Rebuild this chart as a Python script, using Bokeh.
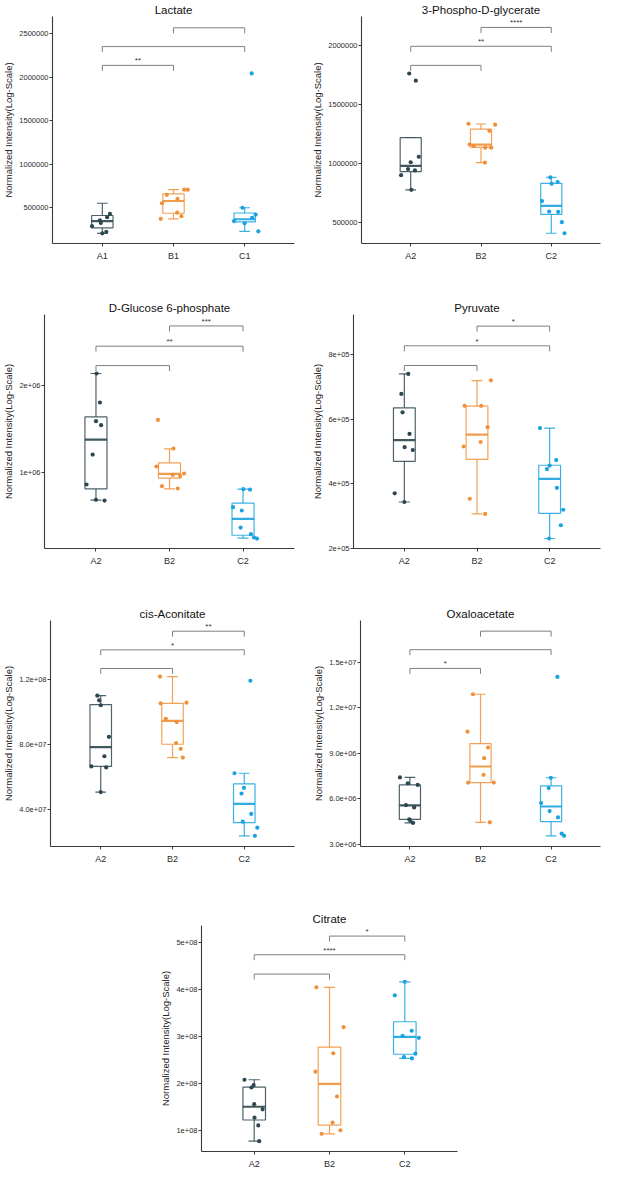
from bokeh.plotting import figure
from bokeh.layouts import column, row
from bokeh.models import Range1d, FactorRange, FixedTicker, Spacer
from bokeh.core.properties import value
from bokeh.embed import file_html
from bokeh.resources import INLINE

FONT = "Liberation Sans"
COLORS = ["#2E4650", "#F0913A", "#1AA3E0"]
YLABEL = "Normalized Intensity(Log-Scale)"
PAIRS = [(0, 1), (0, 2), (1, 2)]

# ---------------- data ----------------
# Lactate
lac_cats = ["A1", "B1", "C1"]
lac_A = [429e3, 392e3, 355e3, 325e3, 288e3, 224e3, 206e3]
lac_A_jit = [0.107, 0.068, -0.034, -0.021, -0.145, 0.056, 0.0]
lac_B = [708e3, 708e3, 649e3, 604e3, 552e3, 444e3, 403e3, 373e3]
lac_B_jit = [0.150, 0.201, -0.094, 0.056, -0.162, 0.051, 0.111, -0.179]
lac_C = [2045e3, 500e3, 422e3, 385e3, 347e3, 322e3, 229e3]
lac_C_jit = [0.098, -0.030, 0.154, 0.106, -0.150, 0.0, 0.192]
lac_q1 = [269e3, 437e3, 338e3]
lac_med = [347e3, 578e3, 368e3]
lac_q3 = [411e3, 660e3, 440e3]
lac_lo = [206e3, 373e3, 229e3]
lac_hi = [552e3, 708e3, 500e3]
lac_br = [2138e3, 2354e3, 2570e3]
lac_sig = ["**", "", ""]
lac_ticks = [500000, 1000000, 1500000, 2000000, 2500000]
lac_ticklabels = ["500000", "1000000", "1500000", "2000000", "2500000"]

# 3-Phospho-D-glycerate
pg_cats = ["A2", "B2", "C2"]
pg_A = [1763e3, 1702e3, 1056e3, 1009e3, 951e3, 940e3, 899e3, 775e3]
pg_A_jit = [-0.021, 0.073, 0.115, 0.0, -0.038, 0.060, -0.137, 0.009]
pg_B = [1336e3, 1328e3, 1276e3, 1160e3, 1147e3, 1133e3, 1133e3, 1006e3]
pg_B_jit = [-0.179, 0.201, 0.120, -0.162, -0.103, 0.060, 0.145, 0.056]
pg_C = [880e3, 841e3, 827e3, 679e3, 591e3, 588e3, 500e3, 406e3]
pg_C_jit = [-0.013, 0.090, 0.004, -0.132, -0.030, 0.098, 0.150, 0.188]
pg_q1 = [929e3, 1136e3, 566e3]
pg_med = [979e3, 1158e3, 638e3]
pg_q3 = [1218e3, 1290e3, 830e3]
pg_lo = [775e3, 1006e3, 406e3]
pg_hi = [1218e3, 1334e3, 880e3]
pg_br = [1832e3, 1994e3, 2154e3]
pg_sig = ["", "**", "****"]
pg_ticks = [500000, 1000000, 1500000, 2000000]
pg_ticklabels = ["500000", "1000000", "1500000", "2000000"]

# D-Glucose 6-phosphate
g6p_cats = ["A2", "B2", "C2"]
g6p_A = [2134e3, 1802e3, 1588e3, 1542e3, 1206e3, 863e3, 687e3, 679e3]
g6p_A_jit = [0.008, 0.054, 0.0, 0.070, -0.045, -0.128, 0.0, 0.116]
g6p_B = [1603e3, 1275e3, 1069e3, 989e3, 973e3, 960e3, 844e3, 817e3]
g6p_B_jit = [-0.157, 0.054, -0.178, 0.198, 0.045, 0.145, -0.103, 0.112]
g6p_C = [809e3, 805e3, 603e3, 565e3, 370e3, 294e3, 256e3, 244e3]
g6p_C_jit = [0.004, 0.095, -0.136, -0.017, -0.033, 0.107, 0.149, 0.190]
g6p_q1 = [813e3, 935e3, 282e3]
g6p_med = [1378e3, 985e3, 469e3]
g6p_q3 = [1637e3, 1111e3, 649e3]
g6p_lo = [683e3, 813e3, 248e3]
g6p_hi = [2134e3, 1271e3, 809e3]
g6p_br = [2225e3, 2447e3, 2679e3]
g6p_sig = ["", "**", "***"]
g6p_ticks = [1000000, 2000000]
g6p_ticklabels = ["1e+06", "2e+06"]

# Pyruvate
pyr_cats = ["A2", "B2", "C2"]
pyr_A = [741e3, 679e3, 622e3, 555e3, 514e3, 505e3, 371e3, 344e3]
pyr_A_jit = [0.054, -0.041, -0.025, 0.071, 0.004, 0.116, -0.133, 0.0]
pyr_B = [721e3, 642e3, 642e3, 576e3, 530e3, 516e3, 354e3, 307e3]
pyr_B_jit = [0.191, -0.170, 0.058, 0.145, 0.050, -0.183, -0.100, 0.112]
pyr_C = [573e3, 474e3, 457e3, 446e3, 388e3, 320e3, 272e3, 231e3]
pyr_C_jit = [-0.133, 0.091, 0.0, -0.037, 0.100, 0.187, 0.154, -0.008]
pyr_q1 = [470e3, 476e3, 309e3]
pyr_med = [536e3, 553e3, 416e3]
pyr_q3 = [636e3, 641e3, 458e3]
pyr_lo = [344e3, 307e3, 231e3]
pyr_hi = [741e3, 720e3, 573e3]
pyr_br = [767e3, 828e3, 889e3]
pyr_sig = ["", "*", "*"]
pyr_ticks = [200000, 400000, 600000, 800000]
pyr_ticklabels = ["2e+05", "4e+05", "6e+05", "8e+05"]

# cis-Aconitate
cis_cats = ["A2", "B2", "C2"]
cis_A = [1.100e8, 1.071e8, 1.041e8, 0.846e8, 0.726e8, 0.663e8, 0.657e8, 0.505e8]
cis_A_jit = [-0.047, -0.021, 0.0, 0.114, 0.051, -0.131, 0.076, 0.0]
cis_B = [1.218e8, 1.053e8, 1.057e8, 0.957e8, 0.937e8, 0.808e8, 0.772e8, 0.718e8]
cis_B_jit = [-0.174, -0.165, 0.195, -0.093, 0.059, 0.051, 0.114, 0.144]
cis_C = [1.192e8, 0.621e8, 0.531e8, 0.496e8, 0.370e8, 0.322e8, 0.285e8, 0.235e8]
cis_C_jit = [0.085, -0.136, -0.004, -0.038, 0.097, -0.021, 0.182, 0.148]
cis_q1 = [0.663e8, 0.800e8, 0.316e8]
cis_med = [0.782e8, 0.945e8, 0.432e8]
cis_q3 = [1.045e8, 1.053e8, 0.555e8]
cis_lo = [0.505e8, 0.718e8, 0.235e8]
cis_hi = [1.100e8, 1.218e8, 0.621e8]
cis_br = [1.268e8, 1.383e8, 1.498e8]
cis_sig = ["", "*", "**"]
cis_ticks = [40000000, 80000000, 120000000]
cis_ticklabels = ["4.0e+07", "8.0e+07", "1.2e+08"]

# Oxaloacetate
oxa_cats = ["A2", "B2", "C2"]
oxa_A = [7.41e6, 7.03e6, 6.92e6, 5.59e6, 5.44e6, 4.65e6, 4.59e6, 4.42e6]
oxa_A_jit = [-0.141, -0.030, 0.111, -0.056, 0.060, -0.009, 0.004, 0.043]
oxa_B = [12.88e6, 10.42e6, 9.38e6, 8.68e6, 7.58e6, 7.07e6, 7.07e6, 4.46e6]
oxa_B_jit = [-0.107, -0.184, 0.107, 0.051, 0.043, -0.175, 0.188, 0.132]
oxa_C = [14.02e6, 7.39e6, 6.71e6, 5.73e6, 5.20e6, 4.78e6, 3.72e6, 3.57e6]
oxa_C_jit = [0.090, -0.004, -0.034, -0.141, -0.021, 0.098, 0.150, 0.184]
oxa_q1 = [4.65e6, 7.07e6, 4.51e6]
oxa_med = [5.57e6, 8.13e6, 5.50e6]
oxa_q3 = [6.92e6, 9.64e6, 6.86e6]
oxa_lo = [4.42e6, 4.46e6, 3.57e6]
oxa_hi = [7.41e6, 12.88e6, 7.39e6]
oxa_br = [14.58e6, 15.81e6, 17.03e6]
oxa_sig = ["*", "", ""]
oxa_ticks = [3000000, 6000000, 9000000, 12000000, 15000000]
oxa_ticklabels = ["3.0e+06", "6.0e+06", "9.0e+06", "1.2e+07", "1.5e+07"]

# Citrate
cit_cats = ["A2", "B2", "C2"]
cit_A = [2.085e8, 1.97e8, 1.92e8, 1.567e8, 1.457e8, 1.28e8, 1.116e8, 0.782e8]
cit_A_jit = [-0.129, -0.008, -0.037, 0.0, 0.112, 0.004, 0.054, 0.066]
cit_B = [4.044e8, 3.198e8, 2.645e8, 2.256e8, 1.730e8, 1.177e8, 1.014e8, 0.939e8]
cit_B_jit = [-0.174, 0.187, 0.050, -0.187, 0.100, 0.041, 0.145, -0.104]
cit_C = [4.160e8, 3.874e8, 3.123e8, 3.014e8, 2.973e8, 2.638e8, 2.563e8, 2.536e8]
cit_C_jit = [0.0, -0.133, 0.091, -0.029, 0.187, 0.141, -0.012, 0.095]
cit_q1 = [1.232e8, 1.123e8, 2.625e8]
cit_med = [1.512e8, 1.997e8, 2.993e8]
cit_q3 = [1.928e8, 2.775e8, 3.314e8]
cit_lo = [0.782e8, 0.939e8, 2.536e8]
cit_hi = [2.085e8, 4.044e8, 4.160e8]
cit_br = [4.324e8, 4.734e8, 5.130e8]
cit_sig = ["", "****", "*"]
cit_ticks = [100000000, 200000000, 300000000, 400000000, 500000000]
cit_ticklabels = ["1e+08", "2e+08", "3e+08", "4e+08", "5e+08"]


def panel(title, cats, groups, jits, q1, med, q3, lo, hi, br, sig, ticks, ticklabels,
          yr, w, h, bl, br_, bt, bb):
    p = figure(width=w, height=h, x_range=FactorRange(factors=cats, range_padding=0.2,
                                                      range_padding_units="absolute"),
               y_range=Range1d(*yr), output_backend="svg", toolbar_location=None,
               min_border_left=bl, min_border_right=br_, min_border_top=bt,
               min_border_bottom=bb)
    p.outline_line_color = None
    p.xgrid.visible = False
    p.ygrid.visible = False
    p.title.text = title
    p.title.align = "center"
    p.title.text_font = FONT
    p.title.text_font_size = "11.5px"
    p.title.text_font_style = "normal"
    p.title.text_color = "#111111"
    p.title.standoff = 2
    for ax in (p.xaxis[0], p.yaxis[0]):
        ax.axis_line_color = "#3A3A3A"
        ax.axis_line_width = 1.1
        ax.major_tick_line_color = "#3A3A3A"
        ax.major_tick_out = 3
        ax.major_tick_in = 0
        ax.minor_tick_line_color = None
        ax.major_label_text_font = FONT
        ax.major_label_text_color = "#2A2A2A"
    p.xaxis.major_label_standoff = 4
    p.yaxis.major_label_standoff = 1
    p.xaxis.major_label_text_font_size = "9px"
    p.yaxis.major_label_text_font_size = "7.5px"
    p.yaxis.ticker = FixedTicker(ticks=ticks)
    p.yaxis.major_label_overrides = {int(t): l for t, l in zip(ticks, ticklabels)}
    p.yaxis.axis_label = YLABEL
    p.yaxis.axis_label_text_font = FONT
    p.yaxis.axis_label_text_font_size = "9.5px"
    p.yaxis.axis_label_text_font_style = "normal"
    p.yaxis.axis_label_text_color = "#222222"
    p.yaxis.axis_label_standoff = 2

    # whiskers + caps
    p.segment(x0=cats, x1=cats, y0=q3, y1=hi, line_color=COLORS, line_width=1.2, line_alpha=0.85)
    p.segment(x0=cats, x1=cats, y0=lo, y1=q1, line_color=COLORS, line_width=1.2, line_alpha=0.85)
    for yy in (hi, lo):
        p.segment(x0=[(c, -0.075) for c in cats], x1=[(c, 0.075) for c in cats],
                  y0=yy, y1=yy, line_color=COLORS, line_width=1.2, line_alpha=0.85)
    # boxes
    p.vbar(x=cats, width=0.3, bottom=q1, top=q3, fill_color="white",
           line_color=COLORS, line_width=1.2, line_alpha=0.85)
    p.segment(x0=[(c, -0.15) for c in cats], x1=[(c, 0.15) for c in cats],
              y0=med, y1=med, line_color=COLORS, line_width=2.2, line_alpha=0.9)
    # jittered points
    for c, vals, jit, col in zip(cats, groups, jits, COLORS):
        p.scatter(x=[(c, j) for j in jit], y=vals, size=4.2, fill_color=col,
                  line_color=None, marker="circle")
    # brackets
    span = yr[1] - yr[0]
    frame_h = h - bt - bb
    tip = span * 5.5 / frame_h
    for (i, j), yb, s in zip(PAIRS, br, sig):
        p.line(x=[cats[i], cats[i], cats[j], cats[j]], y=[yb - tip, yb, yb, yb - tip],
               line_color="#7F7F7F", line_width=1)
        if s:
            p.text(x=[(cats[i], (j - i) / 2)], y=[yb], text=[s], text_align="center",
                   text_baseline="bottom", y_offset=0, text_font=value(FONT),
                   text_font_size="8px", text_color="#333333")
    return p


f1 = panel("Lactate", lac_cats, [lac_A, lac_B, lac_C], [lac_A_jit, lac_B_jit, lac_C_jit],
           lac_q1, lac_med, lac_q3, lac_lo, lac_hi, lac_br, lac_sig, lac_ticks, lac_ticklabels,
           (89e3, 2.70e6), 302, 280, 46, 8, 15, 37)
f2 = panel("3-Phospho-D-glycerate", pg_cats, [pg_A, pg_B, pg_C], [pg_A_jit, pg_B_jit, pg_C_jit],
           pg_q1, pg_med, pg_q3, pg_lo, pg_hi, pg_br, pg_sig, pg_ticks, pg_ticklabels,
           (319e3, 2.247e6), 302, 280, 59, 4, 15, 37)
f3 = panel("D-Glucose 6-phosphate", g6p_cats, [g6p_A, g6p_B, g6p_C],
           [g6p_A_jit, g6p_B_jit, g6p_C_jit],
           g6p_q1, g6p_med, g6p_q3, g6p_lo, g6p_hi, g6p_br, g6p_sig, g6p_ticks, g6p_ticklabels,
           (130e3, 2.81e6), 302, 289, 37, 8, 34, 21)
f4 = panel("Pyruvate", pyr_cats, [pyr_A, pyr_B, pyr_C], [pyr_A_jit, pyr_B_jit, pyr_C_jit],
           pyr_q1, pyr_med, pyr_q3, pyr_lo, pyr_hi, pyr_br, pyr_sig, pyr_ticks, pyr_ticklabels,
           (200e3, 925e3), 302, 289, 51, 4, 34, 21)
f5 = panel("cis-Aconitate", cis_cats, [cis_A, cis_B, cis_C], [cis_A_jit, cis_B_jit, cis_C_jit],
           cis_q1, cis_med, cis_q3, cis_lo, cis_hi, cis_br, cis_sig, cis_ticks, cis_ticklabels,
           (1.69e7, 1.564e8), 302, 297, 43, 8, 51, 18)
f6 = panel("Oxaloacetate", oxa_cats, [oxa_A, oxa_B, oxa_C], [oxa_A_jit, oxa_B_jit, oxa_C_jit],
           oxa_q1, oxa_med, oxa_q3, oxa_lo, oxa_hi, oxa_br, oxa_sig, oxa_ticks, oxa_ticklabels,
           (2.87e6, 1.773e7), 302, 297, 58, 4, 51, 18)
f7 = panel("Citrate", cit_cats, [cit_A, cit_B, cit_C], [cit_A_jit, cit_B_jit, cit_C_jit],
           cit_q1, cit_med, cit_q3, cit_lo, cit_hi, cit_br, cit_sig, cit_ticks, cit_ticklabels,
           (5.64e7, 5.354e8), 320, 305, 59, 5, 59, 19)

layout = column(row(f1, f2), row(f3, f4), row(f5, f6),
                row(Spacer(width=142, height=305), f7))

open("out.html", "w").write(file_html(layout, INLINE))
